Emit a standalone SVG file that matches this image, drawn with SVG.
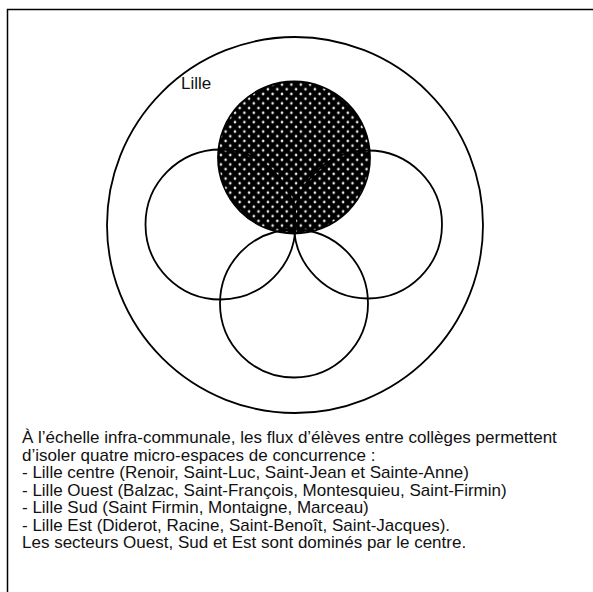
<svg xmlns="http://www.w3.org/2000/svg" width="593" height="592" viewBox="0 0 593 592">
<defs>
<style>
.ln{fill:none;stroke:#000;stroke-width:1.8}
.t{font-family:"Liberation Sans",Arial,sans-serif;fill:#111}
.body{font-size:17px}
</style>
<pattern id="dots" patternUnits="userSpaceOnUse" width="9.4" height="9.4" x="0" y="0">
<rect width="9.4" height="9.4" fill="#000"/>
<circle cx="0" cy="0" r="1.3" fill="#eee"/>
<circle cx="9.4" cy="0" r="1.3" fill="#eee"/>
<circle cx="0" cy="9.4" r="1.3" fill="#eee"/>
<circle cx="9.4" cy="9.4" r="1.3" fill="#eee"/>
<circle cx="4.7" cy="4.7" r="1.3" fill="#eee"/>
</pattern>
</defs>
<rect x="0" y="0" width="593" height="592" fill="#fff"/>
<rect x="7.5" y="9.5" width="620" height="620" fill="none" stroke="#000" stroke-width="1.5"/>
<g id="lille">
<circle cx="295" cy="225" r="188" class="ln"/>
<text x="181" y="89" class="t" font-size="17">Lille</text>
</g>
<g id="centre">
<circle cx="294" cy="157.5" r="76" fill="url(#dots)" stroke="#000" stroke-width="1.8"/>
</g>
<g id="ouest">
<circle cx="220.5" cy="224.5" r="75" class="ln"/>
</g>
<g id="est">
<circle cx="368" cy="224.5" r="74" class="ln"/>
</g>
<g id="sud">
<circle cx="294" cy="303.5" r="74" class="ln"/>
</g>
<g id="legende" class="t body">
<text x="22" y="443">À l’échelle infra-communale, les flux d’élèves entre collèges permettent</text>
<text x="22" y="460.5">d’isoler quatre micro-espaces de concurrence :</text>
<text x="22" y="478">- Lille centre (Renoir, Saint-Luc, Saint-Jean et Sainte-Anne)</text>
<text x="22" y="495.5">- Lille Ouest (Balzac, Saint-François, Montesquieu, Saint-Firmin)</text>
<text x="22" y="513">- Lille Sud (Saint Firmin, Montaigne, Marceau)</text>
<text x="22" y="530.5">- Lille Est (Diderot, Racine, Saint-Benoît, Saint-Jacques).</text>
<text x="22" y="548">Les secteurs Ouest, Sud et Est sont dominés par le centre.</text>
</g>
</svg>
